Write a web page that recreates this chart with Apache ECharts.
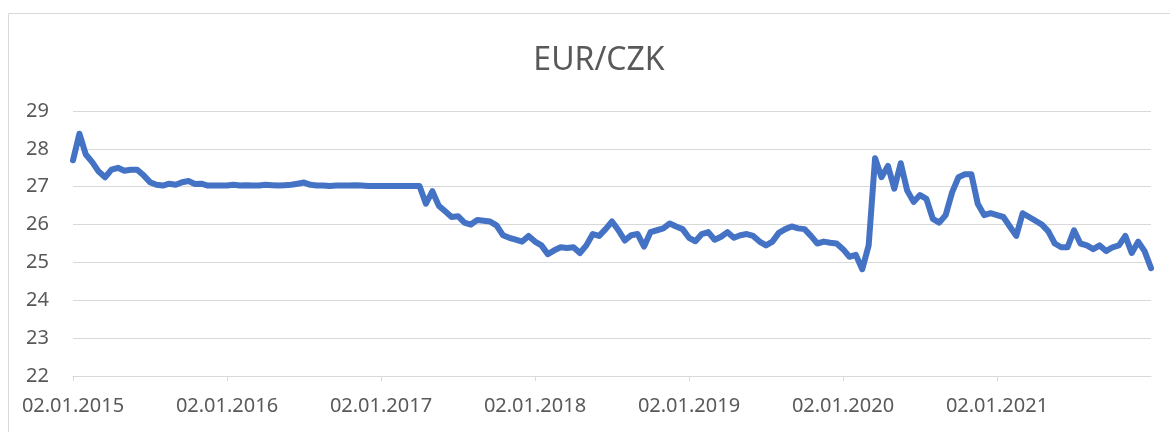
<!DOCTYPE html>
<html>
<head>
<meta charset="utf-8">
<title>EUR/CZK</title>
<script src="https://cdn.jsdelivr.net/npm/echarts@6/dist/echarts.min.js"></script>
<style>
  html, body { margin: 0; padding: 0; background: #fff; }
  #chart { width: 1170px; height: 432px; }
</style>
</head>
<body>
<div id="chart"></div>
<script>
// semi-monthly fixings
const years = [2015, 2016, 2017, 2018, 2019, 2020, 2021]
const days = ['02.01', '16.01', '02.02', '16.02', '02.03', '16.03', '02.04', '16.04',
  '02.05', '16.05', '02.06', '16.06', '02.07', '16.07', '02.08', '16.08',
  '02.09', '16.09', '02.10', '16.10', '02.11', '16.11', '02.12', '16.12']
const lastDay = '31.12.2021'

const rate2015 = [27.7, 28.4, 27.85, 27.65, 27.4, 27.25, 27.45, 27.5, 27.42, 27.45, 27.45, 27.3,
  27.12, 27.05, 27.03, 27.08, 27.05, 27.12, 27.15, 27.07, 27.08, 27.03, 27.03, 27.03]
const rate2016 = [27.03, 27.05, 27.03, 27.04, 27.03, 27.03, 27.05, 27.04, 27.03, 27.04, 27.05, 27.08,
  27.11, 27.05, 27.03, 27.03, 27.02, 27.03, 27.03, 27.03, 27.04, 27.03, 27.02, 27.02]
const rate2017 = [27.02, 27.02, 27.02, 27.02, 27.02, 27.02, 27.02, 26.55, 26.88, 26.5, 26.35, 26.2,
  26.22, 26.05, 26.0, 26.12, 26.1, 26.08, 25.98, 25.72, 25.65, 25.6, 25.55, 25.7]
const rate2018 = [25.55, 25.45, 25.22, 25.32, 25.4, 25.38, 25.4, 25.25, 25.45, 25.75, 25.7, 25.88,
  26.08, 25.85, 25.58, 25.72, 25.75, 25.42, 25.8, 25.85, 25.9, 26.03, 25.95, 25.88]
const rate2019 = [25.65, 25.56, 25.75, 25.8, 25.6, 25.68, 25.8, 25.65, 25.72, 25.75, 25.7, 25.55,
  25.45, 25.55, 25.78, 25.88, 25.95, 25.9, 25.88, 25.7, 25.5, 25.55, 25.52, 25.5]
const rate2020 = [25.35, 25.15, 25.2, 24.82, 25.45, 27.75, 27.25, 27.55, 26.95, 27.62, 26.9, 26.6,
  26.78, 26.68, 26.15, 26.05, 26.25, 26.85, 27.25, 27.33, 27.33, 26.55, 26.25, 26.3]
const rate2021 = [26.25, 26.2, 25.95, 25.7, 26.3, 26.2, 26.1, 26.0, 25.82, 25.5, 25.4, 25.4,
  25.85, 25.5, 25.45, 25.35, 25.45, 25.3, 25.4, 25.45, 25.7, 25.25, 25.55, 25.3, 24.85]

const yMin = 22
const yMax = 29

let categories = []
years.forEach(y => {
  days.forEach(d => categories.push(d + '.' + y))
})
categories.push(lastDay)

const rates = [].concat(rate2015, rate2016, rate2017, rate2018, rate2019, rate2020, rate2021)

const perYear = days.length
const textColor = '#595959'
const gridColor = '#d9d9d9'
const font = 'Noto Sans'

let chart = echarts.init(document.getElementById('chart'))
let option = {
  animation: false,
  title: {
    text: 'EUR/CZK',
    left: 594,
    top: 40,
    textAlign: 'center',
    textStyle: {
      color: textColor,
      fontFamily: font,
      fontWeight: 'normal',
      fontSize: 32
    }
  },
  graphic: [
    {
      // chart frame
      type: 'rect',
      shape: {x: 8.5, y: 13.5, width: 1200, height: 500},
      style: {fill: 'none', stroke: gridColor, lineWidth: 1},
      silent: true
    }
  ],
  grid: {
    left: 73,
    right: 19,
    top: 111,
    bottom: 56
  },
  xAxis: {
    type: 'category',
    boundaryGap: false,
    data: categories,
    axisLine: {
      lineStyle: {color: gridColor, width: 1}
    },
    axisTick: {
      show: true,
      length: 5,
      interval: (idx) => idx % perYear === 0 && idx < categories.length - 1,
      lineStyle: {color: gridColor}
    },
    axisLabel: {
      interval: (idx) => idx % perYear === 0 && idx < categories.length - 1,
      color: textColor,
      fontFamily: font,
      fontSize: 20,
      margin: 20
    },
    splitLine: {show: false}
  },
  yAxis: {
    type: 'value',
    min: yMin,
    max: yMax,
    interval: 1,
    axisLine: {show: false},
    axisTick: {show: false},
    axisLabel: {
      color: textColor,
      fontFamily: font,
      fontSize: 20,
      margin: 24
    },
    splitLine: {
      show: true,
      lineStyle: {color: gridColor, width: 1}
    }
  },
  series: [
    {
      name: 'EUR/CZK',
      type: 'line',
      data: rates,
      showSymbol: false,
      lineStyle: {
        color: '#4472C4',
        width: 6,
        cap: 'round',
        join: 'round'
      }
    }
  ]
}
chart.setOption(option)
</script>
</body>
</html>
